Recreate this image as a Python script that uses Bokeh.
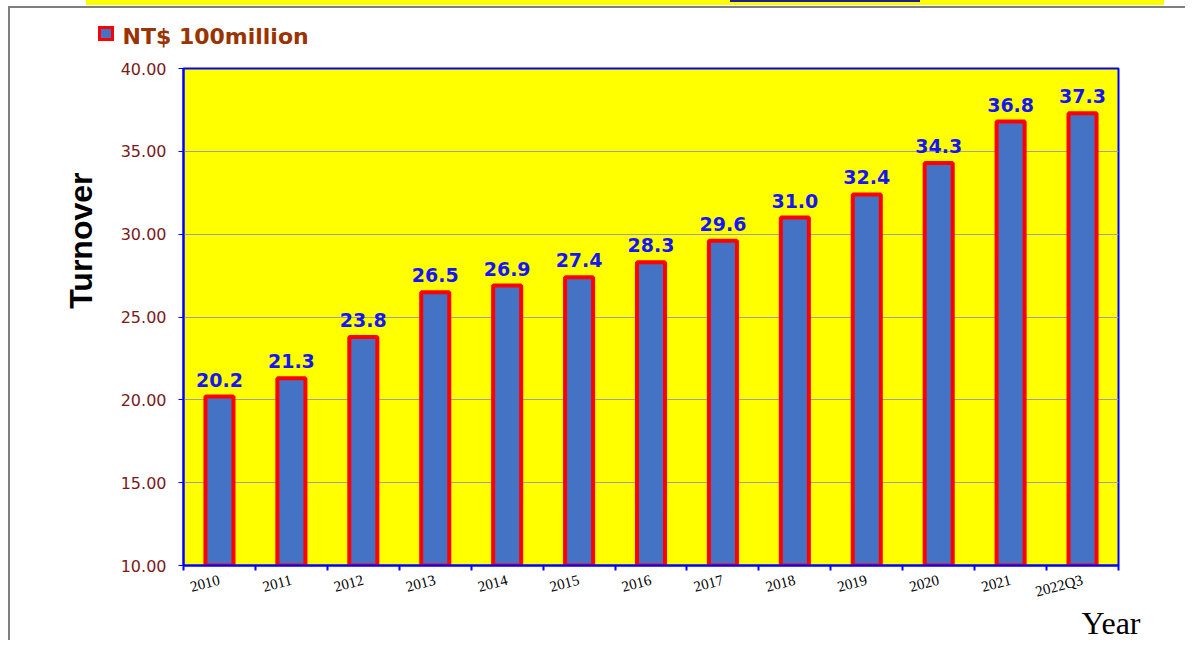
import numpy as np
from bokeh.plotting import figure
from bokeh.models import (ColumnDataSource, FixedTicker, NumeralTickFormatter, Range1d,
                          LabelSet, Title)
from bokeh.core.properties import value
from bokeh.embed import file_html
from bokeh.resources import INLINE

years = ["2010", "2011", "2012", "2013", "2014", "2015", "2016",
         "2017", "2018", "2019", "2020", "2021", "2022Q3"]
turnover = [20.2, 21.3, 23.8, 26.5, 26.9, 27.4, 28.3, 29.6, 31.0, 32.4, 34.3, 36.8, 37.3]
y_ticks = [10, 15, 20, 25, 30, 35, 40]
series_name = "NT$ 100million"

n = len(years)
pos = np.arange(n) + 0.5
src = ColumnDataSource(dict(x=pos, y=turnover, label=[f"{v:.1f}" for v in turnover]))

p = figure(width=1185, height=640, output_backend="svg", toolbar_location=None,
           x_range=Range1d(0, n), y_range=Range1d(y_ticks[0], y_ticks[-1]),
           min_border_left=183, min_border_top=68, min_border_right=67, min_border_bottom=75)
# page decoration + legend swatch (blue square with red border) drawn as CSS background
p.styles = {
    "background": ("linear-gradient(#4472C4,#4472C4) 101px 29px / 10px 9px no-repeat, "
                   "linear-gradient(#FF0000,#FF0000) 98px 26px / 16px 15px no-repeat, "
                   "linear-gradient(#1f1f8f,#1f1f8f) 730px 0px / 190px 2px no-repeat, "
                   "linear-gradient(#ffff00,#ffff00) 86px 0px / 1078px 5px no-repeat, "
                   "linear-gradient(#7f7f7f,#7f7f7f) 8px 6px / 2px 100% no-repeat, "
                   "linear-gradient(#7f7f7f,#7f7f7f) 8px 6px / 100% 2px no-repeat, white"),
}

p.background_fill_color = "#FFFF00"
p.border_fill_color = None
p.outline_line_color = "#0000FF"
p.outline_line_width = 2

r = p.vbar(x="x", top="y", bottom=y_ticks[0], width=0.39, source=src,
           fill_color="#4472C4", line_color="#FF0000", line_width=4)

labels = LabelSet(x="x", y="y", text="label", source=src, y_offset=10,
                  text_align="center", text_baseline="alphabetic",
                  text_font=value("DejaVu Sans"), text_font_style="bold",
                  text_font_size="19px", text_color="#1515F5")
p.add_layout(labels)

# legend text (series name) at the top left
p.title.text = series_name
p.title.align = "left"
p.title.offset = -61
p.title.standoff = 40
p.title.text_font = "DejaVu Sans"
p.title.text_font_style = "bold"
p.title.text_font_size = "22px"
p.title.text_color = "#993300"

# y axis
yax = p.yaxis[0]
yax.ticker = FixedTicker(ticks=y_ticks)
yax.formatter = NumeralTickFormatter(format="0.00")
yax.axis_line_color = "#0000FF"
yax.axis_line_width = 2
yax.major_tick_line_color = "#0000FF"
yax.major_tick_out = 5
yax.major_tick_in = 0
yax.minor_tick_line_color = None
yax.major_label_text_font = "DejaVu Sans"
yax.major_label_text_font_size = "16px"
yax.major_label_text_color = "#7B1A1A"
yax.major_label_standoff = 12

p.add_layout(Title(text="Turnover", align="right", offset=104, standoff=38,
                   text_font="Liberation Sans", text_font_style="bold",
                   text_font_size="32px", text_color="black"), "left")

# x axis: labels at bar centres, ticks at category boundaries
xax = p.xaxis[0]
xax.ticker = FixedTicker(ticks=list(pos), minor_ticks=list(range(n + 1)))
xax.major_label_overrides = {float(x): y for x, y in zip(pos, years)}
xax.axis_line_color = "#0000FF"
xax.axis_line_width = 2
xax.major_tick_line_color = None
xax.minor_tick_line_color = "#0000FF"
xax.minor_tick_line_width = 2
xax.minor_tick_out = 5
xax.minor_tick_in = 0
xax.major_label_orientation = 0.26
xax.major_label_text_font = "Liberation Serif"
xax.major_label_text_font_size = "15px"
xax.major_label_text_color = "black"
xax.major_label_standoff = 8

p.xgrid.grid_line_color = None
p.ygrid.ticker = FixedTicker(ticks=y_ticks)
p.ygrid.grid_line_color = "#A0A0A8"
p.ygrid.grid_line_width = 1

p.add_layout(Title(text="Year", align="right", offset=-22, standoff=-15,
                   text_font="Liberation Serif", text_font_style="normal",
                   text_font_size="32px", text_color="black", text_line_height=1.0), "below")

open("out.html", "w").write(file_html(p, INLINE))
